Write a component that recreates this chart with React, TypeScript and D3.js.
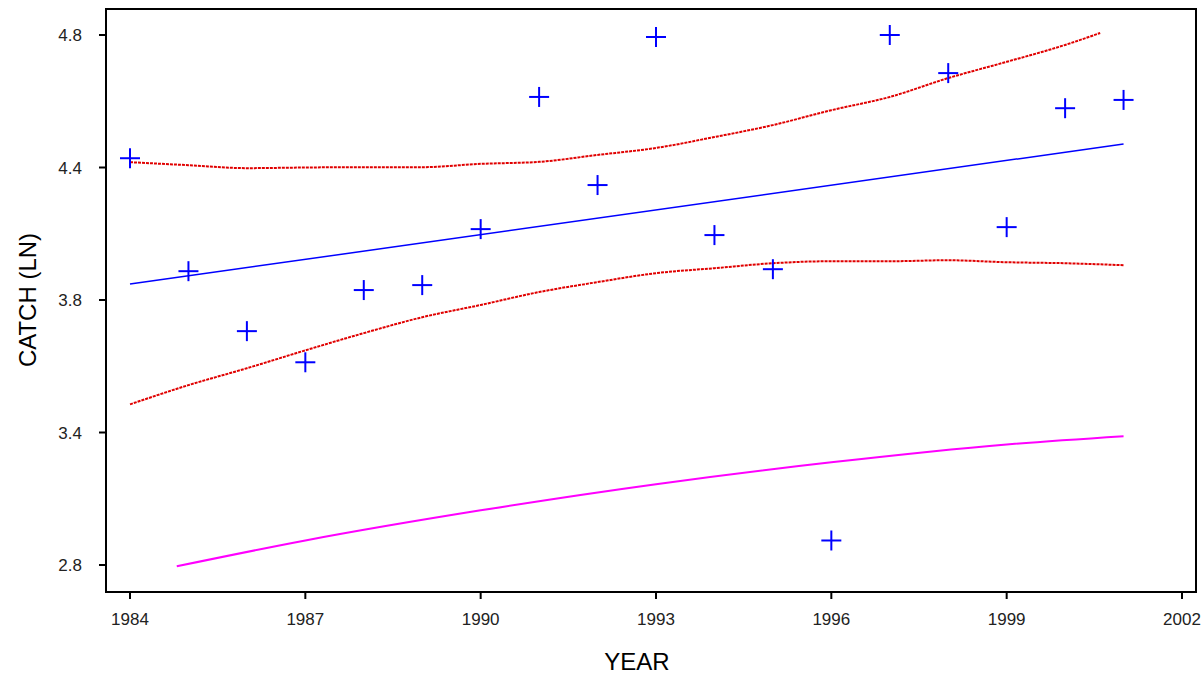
import React from "react";
import * as d3 from "d3";

const years = [1984,1985,1986,1987,1988,1989,1990,1991,1992,1993,1994,1995,1996,1997,1998,1999,2000,2001];
const catchLn = [4.428,4.087,3.906,3.812,4.030,4.045,4.214,4.613,4.347,4.794,4.196,4.093,3.274,4.8,4.685,4.220,4.579,4.604];
const fitYears = [1984, 2001];
const fitVals = [4.048, 4.471];
const upperYears = [1984,1985,1986,1987,1988,1989,1990,1991,1992,1993,1994,1995,1996,1997,1998,1999,2000,2000.6];
const upperVals = [4.416,4.407,4.398,4.400,4.401,4.401,4.411,4.417,4.438,4.459,4.492,4.528,4.573,4.613,4.670,4.719,4.770,4.806];
const lowerYears = years;
const lowerVals = [3.685,3.743,3.794,3.848,3.900,3.948,3.985,4.024,4.054,4.081,4.096,4.111,4.117,4.117,4.120,4.114,4.111,4.105];
const predYears = [1984.8,1987,1990,1993,1996,1999,2001];
const predVals = [3.196,3.274,3.365,3.444,3.510,3.564,3.589];
const xTicks = [1984,1987,1990,1993,1996,1999,2002];
const yTicks = [3.2,3.6,4.0,4.4,4.8];
const yTickLabels = ["2.8","3.4","3.8","4.4","4.8"];

export default function App() {
  const x = d3.scaleLinear().domain([1984, 2002]).range([130, 1182]);
  const y = d3.scaleLinear().domain([4.8, 3.2]).range([35, 565]);
  const line = d3.line<[number, number]>().x(d => x(d[0])).y(d => y(d[1])).curve(d3.curveMonotoneX);
  const zip = (a: number[], b: number[]) => a.map((v, i) => [v, b[i]] as [number, number]);
  const font = "'Liberation Sans', Arial, sans-serif";
  return (
    <svg width={1201} height={676} style={{ position: "absolute", left: 0, top: 0, background: "#fff" }}>
      <rect x={106} y={9} width={1090} height={583} fill="none" stroke="#000" strokeWidth={2} />
      {xTicks.map((t) => (
        <g key={t}>
          <line x1={x(t)} x2={x(t)} y1={592} y2={599} stroke="#000" strokeWidth={2} />
          <text x={x(t)} y={625} textAnchor="middle" fontSize={17} fontFamily={font} fill="#222">{t}</text>
        </g>
      ))}
      {yTicks.map((t, i) => (
        <g key={t}>
          <line x1={99} x2={106} y1={y(t)} y2={y(t)} stroke="#000" strokeWidth={2} />
          <text x={82} y={y(t) + 6} textAnchor="end" fontSize={17} fontFamily={font} fill="#222">{yTickLabels[i]}</text>
        </g>
      ))}
      <text x={637} y={670} textAnchor="middle" fontSize={24} fontFamily={font}>YEAR</text>
      <text transform="translate(36,300) rotate(-90)" textAnchor="middle" fontSize={24} fontFamily={font}>CATCH (LN)</text>
      <path d={line(zip(upperYears, upperVals)) || ""} fill="none" stroke="#e00000" strokeWidth={2} strokeDasharray="3,1" />
      <path d={line(zip(lowerYears, lowerVals)) || ""} fill="none" stroke="#e00000" strokeWidth={2} strokeDasharray="3,1" />
      <path d={line(zip(fitYears, fitVals)) || ""} fill="none" stroke="#0000ff" strokeWidth={1.5} />
      <path d={line(zip(predYears, predVals)) || ""} fill="none" stroke="#ff00ff" strokeWidth={2} />
      {years.map((yr, i) => (
        <g key={yr} stroke="#0000ff" strokeWidth={2}>
          <line x1={x(yr) - 10} x2={x(yr) + 10} y1={y(catchLn[i])} y2={y(catchLn[i])} />
          <line x1={x(yr)} x2={x(yr)} y1={y(catchLn[i]) - 10} y2={y(catchLn[i]) + 10} />
        </g>
      ))}
    </svg>
  );
}
